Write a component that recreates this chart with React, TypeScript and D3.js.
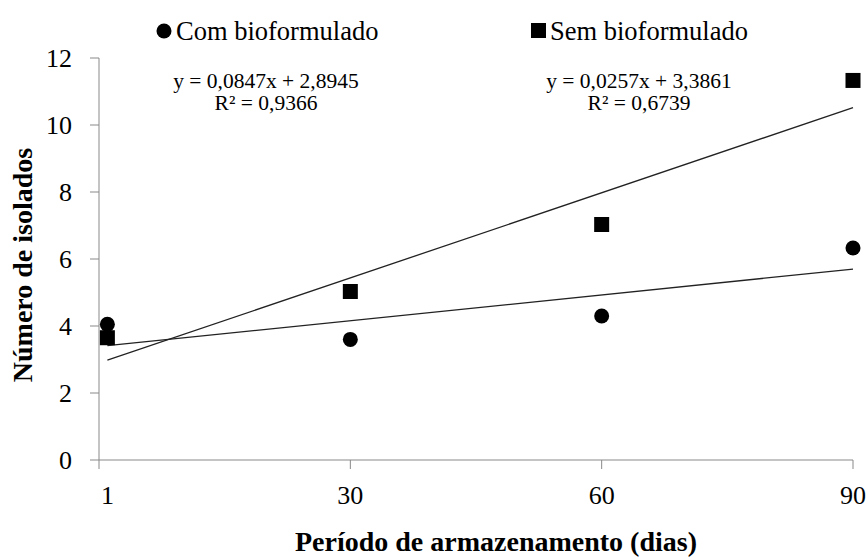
import * as d3 from "d3";
import React, { useRef, useEffect } from "react";

const days = [1, 30, 60, 90];
const comBio = [4.05, 3.6, 4.3, 6.33];
const semBio = [3.65, 5.03, 7.03, 11.33];
const xTickLabels = ["1", "30", "60", "90"];
const xTickMarks = [0, 30, 60, 90];
const yTicks = [0, 2, 4, 6, 8, 10, 12];
// linear trends [slope, intercept] as printed on the chart
const semTrend = [0.0847, 2.8945];
const comTrend = [0.0257, 3.3861];
const eqLeft = ["y = 0,0847x + 2,8945", "R² = 0,9366"];
const eqRight = ["y = 0,0257x + 3,3861", "R² = 0,6739"];

const W = 868;
const H = 557;
const FONT = "Liberation Serif, Times New Roman, serif";
const AXIS = "#898989";

function App() {
  const ref = useRef<SVGSVGElement>(null);

  useEffect(() => {
    const svg = d3.select(ref.current);
    svg.selectAll("*").remove();

    const x = d3.scaleLinear().domain([0, 90]).range([99, 853]);
    const y = d3.scaleLinear().domain([0, 12]).range([460, 58]);

    // y axis
    svg.append("line")
      .attr("x1", x(0)).attr("x2", x(0))
      .attr("y1", y(0)).attr("y2", y(12))
      .attr("stroke", AXIS).attr("stroke-width", 1);
    svg.selectAll(".ytick")
      .data(yTicks)
      .enter()
      .append("line")
      .attr("x1", x(0) - 9).attr("x2", x(0))
      .attr("y1", (d) => y(d)).attr("y2", (d) => y(d))
      .attr("stroke", AXIS);
    svg.selectAll(".ylab")
      .data(yTicks)
      .enter()
      .append("text")
      .attr("x", 72)
      .attr("y", (d) => y(d) + 9)
      .attr("text-anchor", "end")
      .style("font-family", FONT)
      .style("font-size", "26px")
      .attr("fill", "#000")
      .text((d) => d);

    // x axis
    svg.append("line")
      .attr("x1", x(0)).attr("x2", x(90))
      .attr("y1", y(0)).attr("y2", y(0))
      .attr("stroke", AXIS).attr("stroke-width", 1);
    svg.selectAll(".xtick")
      .data(xTickMarks)
      .enter()
      .append("line")
      .attr("x1", (d) => x(d)).attr("x2", (d) => x(d))
      .attr("y1", y(0)).attr("y2", y(0) + 9)
      .attr("stroke", AXIS);
    svg.selectAll(".xlab")
      .data(days)
      .enter()
      .append("text")
      .attr("x", (d) => x(d))
      .attr("y", 504)
      .attr("text-anchor", "middle")
      .style("font-family", FONT)
      .style("font-size", "26px")
      .attr("fill", "#000")
      .text((d, i) => xTickLabels[i]);

    // axis titles
    svg.append("text")
      .attr("x", 496)
      .attr("y", 551)
      .attr("text-anchor", "middle")
      .style("font-family", FONT)
      .style("font-weight", "bold")
      .style("font-size", "28px")
      .text("Período de armazenamento (dias)");
    svg.append("text")
      .attr("transform", "translate(32," + 265 + ") rotate(-90)")
      .attr("text-anchor", "middle")
      .style("font-family", FONT)
      .style("font-weight", "bold")
      .style("font-size", "28px")
      .text("Número de isolados");

    // trend lines
    [semTrend, comTrend].forEach((t) => {
      svg.append("line")
        .attr("x1", x(days[0]))
        .attr("y1", y(t[0] * days[0] + t[1]))
        .attr("x2", x(days[days.length - 1]))
        .attr("y2", y(t[0] * days[days.length - 1] + t[1]))
        .attr("stroke", "#222")
        .attr("stroke-width", 1.3);
    });

    // markers
    const sq = 15;
    svg.selectAll(".sem")
      .data(semBio)
      .enter()
      .append("rect")
      .attr("x", (d, i) => x(days[i]) - sq / 2)
      .attr("y", (d) => y(d) - sq / 2)
      .attr("width", sq)
      .attr("height", sq)
      .attr("fill", "#000");
    svg.selectAll(".com")
      .data(comBio)
      .enter()
      .append("circle")
      .attr("cx", (d, i) => x(days[i]))
      .attr("cy", (d) => y(d))
      .attr("r", 7.5)
      .attr("fill", "#000");

    // legend
    svg.append("circle").attr("cx", 164).attr("cy", 31).attr("r", 7.5).attr("fill", "#000");
    svg.append("text")
      .attr("x", 176).attr("y", 40)
      .style("font-family", FONT).style("font-size", "26.5px")
      .text("Com bioformulado");
    svg.append("rect").attr("x", 531).attr("y", 23).attr("width", 15).attr("height", 15).attr("fill", "#000");
    svg.append("text")
      .attr("x", 550).attr("y", 40)
      .style("font-family", FONT).style("font-size", "26.5px")
      .text("Sem bioformulado");

    // equations
    [
      { cx: 266, lines: eqLeft },
      { cx: 639, lines: eqRight },
    ].forEach((e) => {
      e.lines.forEach((s, i) => {
        svg.append("text")
          .attr("x", e.cx)
          .attr("y", 88 + i * 22)
          .attr("text-anchor", "middle")
          .style("font-family", FONT)
          .style("font-size", "21.5px")
          .text(s);
      });
    });
  }, []);

  return (
    <svg
      ref={ref}
      width={W}
      height={H}
      style={{ position: "absolute", left: 0, top: 0, background: "#fff" }}
    ></svg>
  );
}

export default App;
